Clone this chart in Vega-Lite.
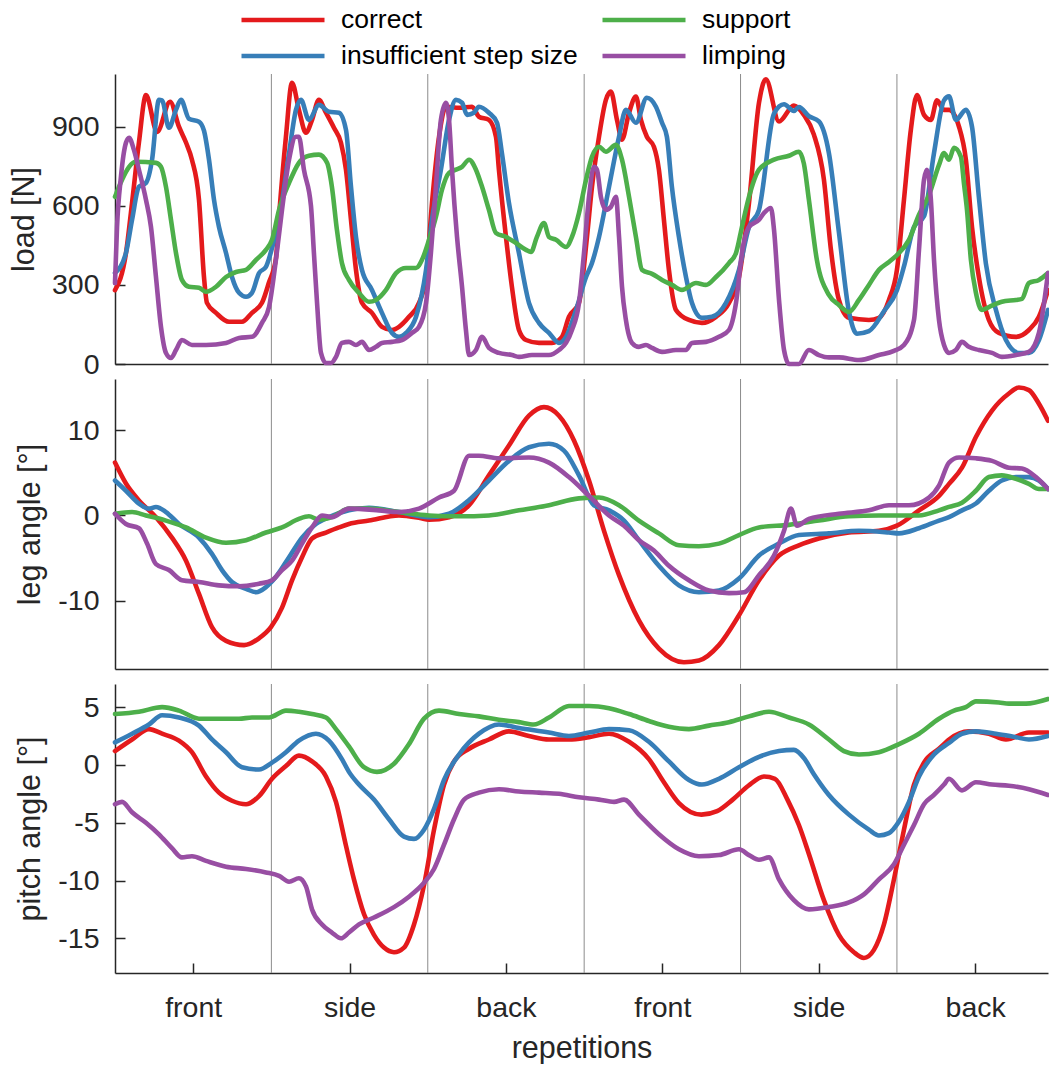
{
"$schema":"https://vega.github.io/schema/vega-lite/v6.json",
"background":"white",
"bounds":"flush",
"padding":{"left":9,"top":5,"right":0,"bottom":0},
"config":{"font":"Liberation Sans","view":{"stroke":null},"concat":{"spacing":15},
"axis":{"grid":false,"domainColor":"#262626","domainWidth":1.5,"tickColor":"#262626","tickWidth":1.5,"labelColor":"#262626","titleColor":"#262626","labelFont":"Liberation Sans","titleFont":"Liberation Sans","labelFontSize":28.5,"titleFontSize":30.5,"titleFontWeight":"normal"},
"line":{"strokeWidth":4.6,"strokeJoin":"round","strokeCap":"round","interpolate":"monotone"}},
"resolve":{"legend":{"color":"independent"}},
"datasets":{
"load":[
{"s":"c","x":0,"y":280},{"s":"c","x":0.07,"y":420},{"s":"c","x":0.109,"y":611},{"s":"c","x":0.153,"y":840},{"s":"c","x":0.198,"y":1020},{"s":"c","x":0.269,"y":880},{"s":"c","x":0.352,"y":995},{"s":"c","x":0.409,"y":900},{"s":"c","x":0.454,"y":840},{"s":"c","x":0.492,"y":775},{"s":"c","x":0.537,"y":623},{"s":"c","x":0.569,"y":330},{"s":"c","x":0.588,"y":232},{"s":"c","x":0.646,"y":194},{"s":"c","x":0.729,"y":160},{"s":"c","x":0.812,"y":160},{"s":"c","x":0.876,"y":194},{"s":"c","x":0.94,"y":232},{"s":"c","x":0.985,"y":310},{"s":"c","x":1.029,"y":400},{"s":"c","x":1.049,"y":560},{"s":"c","x":1.093,"y":862},{"s":"c","x":1.132,"y":1067},{"s":"c","x":1.176,"y":964},{"s":"c","x":1.221,"y":877},{"s":"c","x":1.26,"y":926},{"s":"c","x":1.304,"y":1002},{"s":"c","x":1.349,"y":953},{"s":"c","x":1.4,"y":896},{"s":"c","x":1.445,"y":839},{"s":"c","x":1.477,"y":737},{"s":"c","x":1.509,"y":547},{"s":"c","x":1.541,"y":357},{"s":"c","x":1.579,"y":232},{"s":"c","x":1.643,"y":194},{"s":"c","x":1.707,"y":141},{"s":"c","x":1.771,"y":129},{"s":"c","x":1.816,"y":141},{"s":"c","x":1.88,"y":179},{"s":"c","x":1.944,"y":232},{"s":"c","x":1.989,"y":330},{"s":"c","x":2.027,"y":611},{"s":"c","x":2.072,"y":862},{"s":"c","x":2.116,"y":976},{"s":"c","x":2.2,"y":972},{"s":"c","x":2.283,"y":976},{"s":"c","x":2.327,"y":938},{"s":"c","x":2.391,"y":926},{"s":"c","x":2.436,"y":862},{"s":"c","x":2.455,"y":737},{"s":"c","x":2.5,"y":482},{"s":"c","x":2.538,"y":293},{"s":"c","x":2.583,"y":129},{"s":"c","x":2.628,"y":91},{"s":"c","x":2.711,"y":80},{"s":"c","x":2.794,"y":80},{"s":"c","x":2.858,"y":103},{"s":"c","x":2.903,"y":179},{"s":"c","x":2.967,"y":232},{"s":"c","x":3.018,"y":482},{"s":"c","x":3.05,"y":672},{"s":"c","x":3.095,"y":862},{"s":"c","x":3.139,"y":1002},{"s":"c","x":3.171,"y":1033},{"s":"c","x":3.21,"y":926},{"s":"c","x":3.242,"y":851},{"s":"c","x":3.287,"y":953},{"s":"c","x":3.331,"y":1014},{"s":"c","x":3.363,"y":926},{"s":"c","x":3.401,"y":862},{"s":"c","x":3.446,"y":824},{"s":"c","x":3.478,"y":737},{"s":"c","x":3.51,"y":547},{"s":"c","x":3.542,"y":357},{"s":"c","x":3.587,"y":205},{"s":"c","x":3.67,"y":167},{"s":"c","x":3.753,"y":156},{"s":"c","x":3.843,"y":179},{"s":"c","x":3.926,"y":232},{"s":"c","x":3.99,"y":330},{"s":"c","x":4.054,"y":611},{"s":"c","x":4.118,"y":991},{"s":"c","x":4.162,"y":1080},{"s":"c","x":4.246,"y":920},{"s":"c","x":4.341,"y":980},{"s":"c","x":4.405,"y":945},{"s":"c","x":4.469,"y":870},{"s":"c","x":4.533,"y":700},{"s":"c","x":4.578,"y":433},{"s":"c","x":4.629,"y":243},{"s":"c","x":4.693,"y":175},{"s":"c","x":4.821,"y":167},{"s":"c","x":4.885,"y":175},{"s":"c","x":4.949,"y":243},{"s":"c","x":5,"y":357},{"s":"c","x":5.045,"y":623},{"s":"c","x":5.089,"y":888},{"s":"c","x":5.128,"y":1020},{"s":"c","x":5.173,"y":945},{"s":"c","x":5.217,"y":926},{"s":"c","x":5.256,"y":1000},{"s":"c","x":5.301,"y":964},{"s":"c","x":5.333,"y":964},{"s":"c","x":5.397,"y":900},{"s":"c","x":5.441,"y":775},{"s":"c","x":5.48,"y":520},{"s":"c","x":5.524,"y":330},{"s":"c","x":5.588,"y":167},{"s":"c","x":5.652,"y":118},{"s":"c","x":5.761,"y":103},{"s":"c","x":5.844,"y":129},{"s":"c","x":5.908,"y":179},{"s":"c","x":5.966,"y":280},
{"s":"i","x":0,"y":345},{"s":"i","x":0.07,"y":421},{"s":"i","x":0.109,"y":547},{"s":"i","x":0.153,"y":672},{"s":"i","x":0.198,"y":687},{"s":"i","x":0.237,"y":775},{"s":"i","x":0.281,"y":1002},{"s":"i","x":0.301,"y":1000},{"s":"i","x":0.345,"y":896},{"s":"i","x":0.39,"y":964},{"s":"i","x":0.422,"y":1002},{"s":"i","x":0.473,"y":930},{"s":"i","x":0.537,"y":919},{"s":"i","x":0.569,"y":885},{"s":"i","x":0.601,"y":775},{"s":"i","x":0.633,"y":623},{"s":"i","x":0.665,"y":520},{"s":"i","x":0.71,"y":421},{"s":"i","x":0.748,"y":330},{"s":"i","x":0.793,"y":270},{"s":"i","x":0.838,"y":255},{"s":"i","x":0.876,"y":270},{"s":"i","x":0.921,"y":345},{"s":"i","x":0.965,"y":368},{"s":"i","x":0.985,"y":400},{"s":"i","x":1.004,"y":440},{"s":"i","x":1.049,"y":547},{"s":"i","x":1.113,"y":800},{"s":"i","x":1.157,"y":964},{"s":"i","x":1.189,"y":1002},{"s":"i","x":1.24,"y":926},{"s":"i","x":1.304,"y":983},{"s":"i","x":1.368,"y":957},{"s":"i","x":1.432,"y":953},{"s":"i","x":1.477,"y":888},{"s":"i","x":1.509,"y":672},{"s":"i","x":1.541,"y":482},{"s":"i","x":1.579,"y":357},{"s":"i","x":1.643,"y":281},{"s":"i","x":1.707,"y":194},{"s":"i","x":1.771,"y":118},{"s":"i","x":1.816,"y":103},{"s":"i","x":1.861,"y":118},{"s":"i","x":1.925,"y":179},{"s":"i","x":1.989,"y":357},{"s":"i","x":2.027,"y":547},{"s":"i","x":2.084,"y":737},{"s":"i","x":2.136,"y":926},{"s":"i","x":2.18,"y":1002},{"s":"i","x":2.219,"y":991},{"s":"i","x":2.251,"y":945},{"s":"i","x":2.295,"y":953},{"s":"i","x":2.327,"y":976},{"s":"i","x":2.391,"y":953},{"s":"i","x":2.443,"y":915},{"s":"i","x":2.474,"y":800},{"s":"i","x":2.519,"y":611},{"s":"i","x":2.583,"y":421},{"s":"i","x":2.647,"y":232},{"s":"i","x":2.711,"y":156},{"s":"i","x":2.775,"y":118},{"s":"i","x":2.839,"y":80},{"s":"i","x":2.884,"y":103},{"s":"i","x":2.948,"y":205},{"s":"i","x":3.012,"y":330},{"s":"i","x":3.05,"y":383},{"s":"i","x":3.095,"y":482},{"s":"i","x":3.159,"y":672},{"s":"i","x":3.223,"y":862},{"s":"i","x":3.267,"y":964},{"s":"i","x":3.331,"y":915},{"s":"i","x":3.401,"y":1010},{"s":"i","x":3.459,"y":976},{"s":"i","x":3.498,"y":915},{"s":"i","x":3.529,"y":862},{"s":"i","x":3.561,"y":672},{"s":"i","x":3.606,"y":482},{"s":"i","x":3.651,"y":330},{"s":"i","x":3.689,"y":232},{"s":"i","x":3.753,"y":175},{"s":"i","x":3.817,"y":179},{"s":"i","x":3.907,"y":232},{"s":"i","x":3.99,"y":357},{"s":"i","x":4.054,"y":520},{"s":"i","x":4.118,"y":585},{"s":"i","x":4.214,"y":950},{"s":"i","x":4.278,"y":985},{"s":"i","x":4.341,"y":960},{"s":"i","x":4.373,"y":975},{"s":"i","x":4.437,"y":940},{"s":"i","x":4.501,"y":920},{"s":"i","x":4.565,"y":800},{"s":"i","x":4.629,"y":500},{"s":"i","x":4.693,"y":200},{"s":"i","x":4.744,"y":115},{"s":"i","x":4.821,"y":125},{"s":"i","x":4.917,"y":200},{"s":"i","x":5,"y":280},{"s":"i","x":5.045,"y":370},{"s":"i","x":5.109,"y":520},{"s":"i","x":5.173,"y":560},{"s":"i","x":5.237,"y":800},{"s":"i","x":5.301,"y":1000},{"s":"i","x":5.333,"y":1015},{"s":"i","x":5.377,"y":926},{"s":"i","x":5.441,"y":964},{"s":"i","x":5.48,"y":900},{"s":"i","x":5.524,"y":633},{"s":"i","x":5.569,"y":380},{"s":"i","x":5.633,"y":205},{"s":"i","x":5.697,"y":91},{"s":"i","x":5.78,"y":42},{"s":"i","x":5.844,"y":42},{"s":"i","x":5.908,"y":91},{"s":"i","x":5.966,"y":205},
{"s":"s","x":0,"y":634},{"s":"s","x":0.045,"y":699},{"s":"s","x":0.09,"y":748},{"s":"s","x":0.134,"y":767},{"s":"s","x":0.262,"y":763},{"s":"s","x":0.294,"y":748},{"s":"s","x":0.326,"y":672},{"s":"s","x":0.358,"y":547},{"s":"s","x":0.39,"y":421},{"s":"s","x":0.428,"y":319},{"s":"s","x":0.473,"y":293},{"s":"s","x":0.537,"y":289},{"s":"s","x":0.582,"y":274},{"s":"s","x":0.646,"y":293},{"s":"s","x":0.71,"y":330},{"s":"s","x":0.774,"y":349},{"s":"s","x":0.838,"y":357},{"s":"s","x":0.902,"y":395},{"s":"s","x":0.965,"y":433},{"s":"s","x":1.004,"y":471},{"s":"s","x":1.049,"y":585},{"s":"s","x":1.113,"y":687},{"s":"s","x":1.176,"y":763},{"s":"s","x":1.24,"y":790},{"s":"s","x":1.304,"y":794},{"s":"s","x":1.356,"y":763},{"s":"s","x":1.387,"y":672},{"s":"s","x":1.419,"y":509},{"s":"s","x":1.451,"y":383},{"s":"s","x":1.496,"y":319},{"s":"s","x":1.56,"y":270},{"s":"s","x":1.624,"y":236},{"s":"s","x":1.669,"y":243},{"s":"s","x":1.733,"y":281},{"s":"s","x":1.797,"y":345},{"s":"s","x":1.861,"y":364},{"s":"s","x":1.925,"y":364},{"s":"s","x":1.963,"y":395},{"s":"s","x":2.008,"y":471},{"s":"s","x":2.052,"y":558},{"s":"s","x":2.091,"y":661},{"s":"s","x":2.136,"y":725},{"s":"s","x":2.18,"y":737},{"s":"s","x":2.219,"y":748},{"s":"s","x":2.264,"y":775},{"s":"s","x":2.308,"y":737},{"s":"s","x":2.347,"y":672},{"s":"s","x":2.391,"y":585},{"s":"s","x":2.436,"y":497},{"s":"s","x":2.5,"y":482},{"s":"s","x":2.564,"y":459},{"s":"s","x":2.628,"y":433},{"s":"s","x":2.66,"y":425},{"s":"s","x":2.698,"y":482},{"s":"s","x":2.743,"y":535},{"s":"s","x":2.775,"y":482},{"s":"s","x":2.82,"y":471},{"s":"s","x":2.884,"y":444},{"s":"s","x":2.922,"y":482},{"s":"s","x":2.967,"y":573},{"s":"s","x":3.012,"y":699},{"s":"s","x":3.05,"y":786},{"s":"s","x":3.095,"y":824},{"s":"s","x":3.139,"y":805},{"s":"s","x":3.203,"y":831},{"s":"s","x":3.242,"y":775},{"s":"s","x":3.287,"y":634},{"s":"s","x":3.331,"y":482},{"s":"s","x":3.37,"y":357},{"s":"s","x":3.434,"y":342},{"s":"s","x":3.498,"y":319},{"s":"s","x":3.561,"y":300},{"s":"s","x":3.625,"y":281},{"s":"s","x":3.715,"y":307},{"s":"s","x":3.779,"y":300},{"s":"s","x":3.843,"y":330},{"s":"s","x":3.926,"y":383},{"s":"s","x":3.971,"y":421},{"s":"s","x":4.009,"y":520},{"s":"s","x":4.054,"y":634},{"s":"s","x":4.118,"y":737},{"s":"s","x":4.214,"y":775},{"s":"s","x":4.31,"y":790},{"s":"s","x":4.373,"y":805},{"s":"s","x":4.405,"y":760},{"s":"s","x":4.437,"y":623},{"s":"s","x":4.488,"y":395},{"s":"s","x":4.565,"y":262},{"s":"s","x":4.629,"y":224},{"s":"s","x":4.693,"y":197},{"s":"s","x":4.757,"y":243},{"s":"s","x":4.821,"y":300},{"s":"s","x":4.885,"y":357},{"s":"s","x":4.949,"y":387},{"s":"s","x":5,"y":413},{"s":"s","x":5.077,"y":471},{"s":"s","x":5.141,"y":566},{"s":"s","x":5.205,"y":641},{"s":"s","x":5.269,"y":755},{"s":"s","x":5.301,"y":800},{"s":"s","x":5.333,"y":775},{"s":"s","x":5.365,"y":820},{"s":"s","x":5.409,"y":786},{"s":"s","x":5.429,"y":683},{"s":"s","x":5.448,"y":585},{"s":"s","x":5.473,"y":395},{"s":"s","x":5.505,"y":270},{"s":"s","x":5.543,"y":205},{"s":"s","x":5.588,"y":216},{"s":"s","x":5.671,"y":236},{"s":"s","x":5.761,"y":243},{"s":"s","x":5.799,"y":247},{"s":"s","x":5.844,"y":307},{"s":"s","x":5.908,"y":319},{"s":"s","x":5.966,"y":345},
{"s":"l","x":0,"y":307},{"s":"l","x":0.013,"y":520},{"s":"l","x":0.038,"y":710},{"s":"l","x":0.07,"y":839},{"s":"l","x":0.09,"y":858},{"s":"l","x":0.121,"y":812},{"s":"l","x":0.153,"y":737},{"s":"l","x":0.198,"y":623},{"s":"l","x":0.23,"y":520},{"s":"l","x":0.262,"y":330},{"s":"l","x":0.294,"y":141},{"s":"l","x":0.326,"y":42},{"s":"l","x":0.358,"y":23},{"s":"l","x":0.39,"y":53},{"s":"l","x":0.428,"y":91},{"s":"l","x":0.492,"y":72},{"s":"l","x":0.582,"y":72},{"s":"l","x":0.71,"y":80},{"s":"l","x":0.793,"y":99},{"s":"l","x":0.876,"y":103},{"s":"l","x":0.94,"y":156},{"s":"l","x":0.985,"y":216},{"s":"l","x":1.029,"y":395},{"s":"l","x":1.068,"y":585},{"s":"l","x":1.113,"y":775},{"s":"l","x":1.157,"y":862},{"s":"l","x":1.176,"y":862},{"s":"l","x":1.208,"y":737},{"s":"l","x":1.253,"y":600},{"s":"l","x":1.272,"y":421},{"s":"l","x":1.292,"y":232},{"s":"l","x":1.317,"y":42},{"s":"l","x":1.349,"y":4},{"s":"l","x":1.381,"y":4},{"s":"l","x":1.413,"y":27},{"s":"l","x":1.451,"y":80},{"s":"l","x":1.496,"y":84},{"s":"l","x":1.541,"y":72},{"s":"l","x":1.579,"y":84},{"s":"l","x":1.624,"y":53},{"s":"l","x":1.669,"y":65},{"s":"l","x":1.707,"y":80},{"s":"l","x":1.771,"y":84},{"s":"l","x":1.835,"y":91},{"s":"l","x":1.899,"y":118},{"s":"l","x":1.944,"y":141},{"s":"l","x":1.989,"y":232},{"s":"l","x":2.02,"y":421},{"s":"l","x":2.052,"y":672},{"s":"l","x":2.084,"y":926},{"s":"l","x":2.116,"y":991},{"s":"l","x":2.136,"y":926},{"s":"l","x":2.155,"y":737},{"s":"l","x":2.187,"y":482},{"s":"l","x":2.219,"y":293},{"s":"l","x":2.244,"y":129},{"s":"l","x":2.264,"y":34},{"s":"l","x":2.308,"y":53},{"s":"l","x":2.347,"y":103},{"s":"l","x":2.391,"y":61},{"s":"l","x":2.455,"y":42},{"s":"l","x":2.538,"y":34},{"s":"l","x":2.583,"y":27},{"s":"l","x":2.666,"y":34},{"s":"l","x":2.775,"y":34},{"s":"l","x":2.839,"y":53},{"s":"l","x":2.884,"y":80},{"s":"l","x":2.922,"y":129},{"s":"l","x":2.967,"y":232},{"s":"l","x":2.999,"y":421},{"s":"l","x":3.031,"y":634},{"s":"l","x":3.063,"y":748},{"s":"l","x":3.082,"y":737},{"s":"l","x":3.107,"y":634},{"s":"l","x":3.139,"y":585},{"s":"l","x":3.171,"y":596},{"s":"l","x":3.203,"y":634},{"s":"l","x":3.223,"y":482},{"s":"l","x":3.242,"y":293},{"s":"l","x":3.267,"y":167},{"s":"l","x":3.306,"y":80},{"s":"l","x":3.35,"y":65},{"s":"l","x":3.395,"y":72},{"s":"l","x":3.434,"y":61},{"s":"l","x":3.498,"y":46},{"s":"l","x":3.587,"y":53},{"s":"l","x":3.651,"y":53},{"s":"l","x":3.689,"y":80},{"s":"l","x":3.779,"y":84},{"s":"l","x":3.862,"y":103},{"s":"l","x":3.926,"y":129},{"s":"l","x":3.971,"y":232},{"s":"l","x":4.009,"y":421},{"s":"l","x":4.054,"y":520},{"s":"l","x":4.118,"y":547},{"s":"l","x":4.15,"y":573},{"s":"l","x":4.194,"y":592},{"s":"l","x":4.214,"y":509},{"s":"l","x":4.246,"y":243},{"s":"l","x":4.278,"y":53},{"s":"l","x":4.31,"y":0},{"s":"l","x":4.373,"y":0},{"s":"l","x":4.437,"y":53},{"s":"l","x":4.501,"y":34},{"s":"l","x":4.565,"y":25},{"s":"l","x":4.629,"y":25},{"s":"l","x":4.757,"y":15},{"s":"l","x":4.885,"y":34},{"s":"l","x":4.981,"y":50},{"s":"l","x":5.045,"y":72},{"s":"l","x":5.109,"y":167},{"s":"l","x":5.141,"y":433},{"s":"l","x":5.173,"y":699},{"s":"l","x":5.192,"y":737},{"s":"l","x":5.217,"y":623},{"s":"l","x":5.237,"y":395},{"s":"l","x":5.269,"y":167},{"s":"l","x":5.301,"y":72},{"s":"l","x":5.333,"y":42},{"s":"l","x":5.377,"y":53},{"s":"l","x":5.416,"y":84},{"s":"l","x":5.46,"y":65},{"s":"l","x":5.524,"y":53},{"s":"l","x":5.608,"y":42},{"s":"l","x":5.671,"y":27},{"s":"l","x":5.761,"y":34},{"s":"l","x":5.844,"y":46},{"s":"l","x":5.908,"y":118},{"s":"l","x":5.966,"y":345}
],
"leg":[
{"s":"c","x":0,"y":6.2},{"s":"c","x":0.07,"y":3.75},{"s":"c","x":0.153,"y":1.76},{"s":"c","x":0.262,"y":-0.2},{"s":"c","x":0.364,"y":-2.6},{"s":"c","x":0.454,"y":-5.3},{"s":"c","x":0.537,"y":-9.2},{"s":"c","x":0.62,"y":-13.1},{"s":"c","x":0.71,"y":-14.7},{"s":"c","x":0.825,"y":-15.2},{"s":"c","x":0.921,"y":-14.4},{"s":"c","x":0.997,"y":-13.1},{"s":"c","x":1.068,"y":-10.8},{"s":"c","x":1.132,"y":-7.6},{"s":"c","x":1.196,"y":-4.9},{"s":"c","x":1.26,"y":-2.7},{"s":"c","x":1.349,"y":-2},{"s":"c","x":1.432,"y":-1.4},{"s":"c","x":1.496,"y":-1},{"s":"c","x":1.624,"y":-0.6},{"s":"c","x":1.816,"y":0},{"s":"c","x":1.95,"y":-0.3},{"s":"c","x":2.008,"y":-0.5},{"s":"c","x":2.136,"y":-0.2},{"s":"c","x":2.264,"y":1.2},{"s":"c","x":2.391,"y":4.7},{"s":"c","x":2.519,"y":8.2},{"s":"c","x":2.647,"y":11.7},{"s":"c","x":2.743,"y":12.7},{"s":"c","x":2.839,"y":11.7},{"s":"c","x":2.935,"y":8.8},{"s":"c","x":3.031,"y":4.1},{"s":"c","x":3.127,"y":-1.8},{"s":"c","x":3.223,"y":-7},{"s":"c","x":3.35,"y":-12.3},{"s":"c","x":3.478,"y":-15.6},{"s":"c","x":3.638,"y":-17.2},{"s":"c","x":3.734,"y":-17},{"s":"c","x":3.862,"y":-15.2},{"s":"c","x":3.99,"y":-11.7},{"s":"c","x":4.118,"y":-7.6},{"s":"c","x":4.246,"y":-4.7},{"s":"c","x":4.373,"y":-3.5},{"s":"c","x":4.501,"y":-2.7},{"s":"c","x":4.693,"y":-2},{"s":"c","x":4.885,"y":-1.8},{"s":"c","x":5,"y":-1.2},{"s":"c","x":5.141,"y":0.6},{"s":"c","x":5.269,"y":2.3},{"s":"c","x":5.333,"y":3.7},{"s":"c","x":5.416,"y":5.6},{"s":"c","x":5.505,"y":9.2},{"s":"c","x":5.608,"y":12.3},{"s":"c","x":5.716,"y":14.3},{"s":"c","x":5.78,"y":15},{"s":"c","x":5.844,"y":14.7},{"s":"c","x":5.908,"y":13.1},{"s":"c","x":5.966,"y":11.1},
{"s":"i","x":0,"y":4.1},{"s":"i","x":0.07,"y":2.9},{"s":"i","x":0.153,"y":1.4},{"s":"i","x":0.217,"y":0.8},{"s":"i","x":0.262,"y":1},{"s":"i","x":0.326,"y":0.4},{"s":"i","x":0.409,"y":-1},{"s":"i","x":0.537,"y":-2.6},{"s":"i","x":0.62,"y":-4.5},{"s":"i","x":0.684,"y":-6.4},{"s":"i","x":0.748,"y":-7.8},{"s":"i","x":0.838,"y":-8.6},{"s":"i","x":0.902,"y":-9},{"s":"i","x":0.965,"y":-8.4},{"s":"i","x":1.029,"y":-7.2},{"s":"i","x":1.113,"y":-4.9},{"s":"i","x":1.196,"y":-2.6},{"s":"i","x":1.285,"y":-1},{"s":"i","x":1.368,"y":-0.2},{"s":"i","x":1.496,"y":0.6},{"s":"i","x":1.624,"y":0.9},{"s":"i","x":1.816,"y":0.4},{"s":"i","x":2.008,"y":-0.2},{"s":"i","x":2.136,"y":0.2},{"s":"i","x":2.264,"y":1.8},{"s":"i","x":2.391,"y":4.1},{"s":"i","x":2.519,"y":6.4},{"s":"i","x":2.647,"y":8},{"s":"i","x":2.775,"y":8.4},{"s":"i","x":2.871,"y":7.6},{"s":"i","x":2.967,"y":4.7},{"s":"i","x":3.063,"y":1.2},{"s":"i","x":3.159,"y":0.6},{"s":"i","x":3.255,"y":-0.6},{"s":"i","x":3.35,"y":-2.9},{"s":"i","x":3.478,"y":-5.9},{"s":"i","x":3.606,"y":-8.2},{"s":"i","x":3.734,"y":-9},{"s":"i","x":3.862,"y":-8.8},{"s":"i","x":3.99,"y":-7.4},{"s":"i","x":4.118,"y":-4.7},{"s":"i","x":4.246,"y":-3.3},{"s":"i","x":4.373,"y":-2.3},{"s":"i","x":4.565,"y":-2.1},{"s":"i","x":4.757,"y":-1.8},{"s":"i","x":4.949,"y":-2},{"s":"i","x":5.013,"y":-2.1},{"s":"i","x":5.141,"y":-1.5},{"s":"i","x":5.269,"y":-0.6},{"s":"i","x":5.333,"y":-0.2},{"s":"i","x":5.416,"y":0.6},{"s":"i","x":5.505,"y":1.4},{"s":"i","x":5.588,"y":2.9},{"s":"i","x":5.671,"y":4.1},{"s":"i","x":5.761,"y":4.5},{"s":"i","x":5.844,"y":4.5},{"s":"i","x":5.908,"y":4.1},{"s":"i","x":5.966,"y":3.1},
{"s":"s","x":0,"y":0.2},{"s":"s","x":0.109,"y":0.4},{"s":"s","x":0.198,"y":0},{"s":"s","x":0.326,"y":-0.6},{"s":"s","x":0.454,"y":-1.4},{"s":"s","x":0.582,"y":-2.6},{"s":"s","x":0.71,"y":-3.2},{"s":"s","x":0.838,"y":-2.9},{"s":"s","x":0.965,"y":-2},{"s":"s","x":1.068,"y":-1.4},{"s":"s","x":1.176,"y":-0.4},{"s":"s","x":1.24,"y":-0.1},{"s":"s","x":1.304,"y":-0.5},{"s":"s","x":1.387,"y":-0.2},{"s":"s","x":1.496,"y":0.8},{"s":"s","x":1.624,"y":0.8},{"s":"s","x":1.816,"y":0.4},{"s":"s","x":2.008,"y":0},{"s":"s","x":2.2,"y":-0.1},{"s":"s","x":2.391,"y":0},{"s":"s","x":2.583,"y":0.6},{"s":"s","x":2.775,"y":1.2},{"s":"s","x":2.967,"y":2},{"s":"s","x":3.095,"y":2.1},{"s":"s","x":3.223,"y":1.2},{"s":"s","x":3.35,"y":-0.6},{"s":"s","x":3.478,"y":-2.1},{"s":"s","x":3.606,"y":-3.5},{"s":"s","x":3.734,"y":-3.6},{"s":"s","x":3.862,"y":-3.3},{"s":"s","x":3.99,"y":-2.3},{"s":"s","x":4.118,"y":-1.4},{"s":"s","x":4.31,"y":-1.1},{"s":"s","x":4.501,"y":-0.6},{"s":"s","x":4.693,"y":-0.1},{"s":"s","x":4.885,"y":0},{"s":"s","x":5.141,"y":0},{"s":"s","x":5.269,"y":0.6},{"s":"s","x":5.333,"y":1},{"s":"s","x":5.416,"y":1.5},{"s":"s","x":5.505,"y":2.9},{"s":"s","x":5.588,"y":4.5},{"s":"s","x":5.671,"y":4.7},{"s":"s","x":5.761,"y":4.3},{"s":"s","x":5.844,"y":3.7},{"s":"s","x":5.908,"y":3.1},{"s":"s","x":5.966,"y":3.1},
{"s":"l","x":0,"y":0.2},{"s":"l","x":0.07,"y":-1},{"s":"l","x":0.153,"y":-1.5},{"s":"l","x":0.205,"y":-3.3},{"s":"l","x":0.262,"y":-5.7},{"s":"l","x":0.345,"y":-6.4},{"s":"l","x":0.428,"y":-7.6},{"s":"l","x":0.537,"y":-7.8},{"s":"l","x":0.665,"y":-8.2},{"s":"l","x":0.793,"y":-8.3},{"s":"l","x":0.921,"y":-8},{"s":"l","x":1.004,"y":-7.6},{"s":"l","x":1.068,"y":-6.4},{"s":"l","x":1.132,"y":-5.3},{"s":"l","x":1.196,"y":-3.3},{"s":"l","x":1.26,"y":-1.4},{"s":"l","x":1.324,"y":0},{"s":"l","x":1.387,"y":-0.2},{"s":"l","x":1.496,"y":0.8},{"s":"l","x":1.688,"y":0.6},{"s":"l","x":1.816,"y":0.4},{"s":"l","x":1.944,"y":0.8},{"s":"l","x":2.072,"y":2.1},{"s":"l","x":2.168,"y":2.9},{"s":"l","x":2.264,"y":7},{"s":"l","x":2.327,"y":7},{"s":"l","x":2.455,"y":6.7},{"s":"l","x":2.647,"y":6.8},{"s":"l","x":2.775,"y":6.2},{"s":"l","x":2.903,"y":4.5},{"s":"l","x":3.031,"y":2.3},{"s":"l","x":3.159,"y":0},{"s":"l","x":3.255,"y":-1.2},{"s":"l","x":3.35,"y":-2.9},{"s":"l","x":3.446,"y":-4.1},{"s":"l","x":3.542,"y":-5.9},{"s":"l","x":3.67,"y":-7.6},{"s":"l","x":3.798,"y":-8.8},{"s":"l","x":3.926,"y":-9.1},{"s":"l","x":4.022,"y":-9},{"s":"l","x":4.118,"y":-7},{"s":"l","x":4.214,"y":-4.7},{"s":"l","x":4.278,"y":-1.8},{"s":"l","x":4.322,"y":0.8},{"s":"l","x":4.361,"y":-1.2},{"s":"l","x":4.437,"y":-0.4},{"s":"l","x":4.629,"y":0.2},{"s":"l","x":4.821,"y":0.6},{"s":"l","x":4.949,"y":1.2},{"s":"l","x":5.077,"y":1.2},{"s":"l","x":5.205,"y":2.1},{"s":"l","x":5.269,"y":3.5},{"s":"l","x":5.333,"y":6.2},{"s":"l","x":5.397,"y":6.8},{"s":"l","x":5.505,"y":6.7},{"s":"l","x":5.608,"y":6.4},{"s":"l","x":5.716,"y":5.6},{"s":"l","x":5.799,"y":5.5},{"s":"l","x":5.889,"y":4.5},{"s":"l","x":5.966,"y":3.1}
],
"pitch":[
{"s":"c","x":0,"y":1.2},{"s":"c","x":0.109,"y":2.2},{"s":"c","x":0.217,"y":3.1},{"s":"c","x":0.301,"y":2.7},{"s":"c","x":0.409,"y":2.1},{"s":"c","x":0.492,"y":1.1},{"s":"c","x":0.582,"y":-1},{"s":"c","x":0.665,"y":-2.4},{"s":"c","x":0.748,"y":-3.1},{"s":"c","x":0.838,"y":-3.4},{"s":"c","x":0.921,"y":-2.7},{"s":"c","x":1.004,"y":-1.2},{"s":"c","x":1.093,"y":-0.1},{"s":"c","x":1.176,"y":0.8},{"s":"c","x":1.26,"y":0.3},{"s":"c","x":1.349,"y":-1},{"s":"c","x":1.413,"y":-3.2},{"s":"c","x":1.477,"y":-7},{"s":"c","x":1.528,"y":-9.9},{"s":"c","x":1.592,"y":-12.9},{"s":"c","x":1.656,"y":-14.7},{"s":"c","x":1.72,"y":-15.8},{"s":"c","x":1.784,"y":-16.2},{"s":"c","x":1.848,"y":-15.8},{"s":"c","x":1.912,"y":-13.8},{"s":"c","x":1.976,"y":-10.4},{"s":"c","x":2.04,"y":-5.6},{"s":"c","x":2.104,"y":-1.7},{"s":"c","x":2.168,"y":0.3},{"s":"c","x":2.264,"y":1.4},{"s":"c","x":2.391,"y":2.2},{"s":"c","x":2.519,"y":2.9},{"s":"c","x":2.647,"y":2.5},{"s":"c","x":2.775,"y":2.2},{"s":"c","x":2.903,"y":2.2},{"s":"c","x":3.031,"y":2.4},{"s":"c","x":3.159,"y":2.7},{"s":"c","x":3.287,"y":2},{"s":"c","x":3.414,"y":0.5},{"s":"c","x":3.51,"y":-1.5},{"s":"c","x":3.606,"y":-3.3},{"s":"c","x":3.75,"y":-4.3},{"s":"c","x":3.85,"y":-4},{"s":"c","x":3.95,"y":-3},{"s":"c","x":4.05,"y":-1.8},{"s":"c","x":4.15,"y":-1},{"s":"c","x":4.22,"y":-1.2},{"s":"c","x":4.3,"y":-3},{"s":"c","x":4.373,"y":-5.2},{"s":"c","x":4.437,"y":-7.7},{"s":"c","x":4.533,"y":-11.7},{"s":"c","x":4.629,"y":-14.7},{"s":"c","x":4.725,"y":-16.2},{"s":"c","x":4.789,"y":-16.7},{"s":"c","x":4.853,"y":-16},{"s":"c","x":4.917,"y":-13.8},{"s":"c","x":4.981,"y":-9.9},{"s":"c","x":5.045,"y":-5.6},{"s":"c","x":5.109,"y":-1.7},{"s":"c","x":5.173,"y":0.2},{"s":"c","x":5.269,"y":1.4},{"s":"c","x":5.333,"y":2.2},{"s":"c","x":5.46,"y":2.9},{"s":"c","x":5.588,"y":2.7},{"s":"c","x":5.697,"y":2.2},{"s":"c","x":5.844,"y":2.8},{"s":"c","x":5.966,"y":2.8},
{"s":"i","x":0,"y":1.95},{"s":"i","x":0.109,"y":2.7},{"s":"i","x":0.217,"y":3.5},{"s":"i","x":0.301,"y":4.3},{"s":"i","x":0.409,"y":4.1},{"s":"i","x":0.537,"y":3.4},{"s":"i","x":0.62,"y":2.2},{"s":"i","x":0.71,"y":1.1},{"s":"i","x":0.812,"y":-0.2},{"s":"i","x":0.921,"y":-0.4},{"s":"i","x":1.004,"y":0.2},{"s":"i","x":1.093,"y":1.1},{"s":"i","x":1.176,"y":2.1},{"s":"i","x":1.285,"y":2.7},{"s":"i","x":1.368,"y":2.1},{"s":"i","x":1.451,"y":0.5},{"s":"i","x":1.496,"y":-0.6},{"s":"i","x":1.56,"y":-1.7},{"s":"i","x":1.656,"y":-3},{"s":"i","x":1.752,"y":-4.7},{"s":"i","x":1.848,"y":-6.2},{"s":"i","x":1.912,"y":-6.4},{"s":"i","x":1.976,"y":-5.6},{"s":"i","x":2.04,"y":-3.8},{"s":"i","x":2.104,"y":-1.3},{"s":"i","x":2.2,"y":0.9},{"s":"i","x":2.327,"y":2.7},{"s":"i","x":2.455,"y":3.5},{"s":"i","x":2.583,"y":3.2},{"s":"i","x":2.775,"y":2.8},{"s":"i","x":2.903,"y":2.5},{"s":"i","x":3.031,"y":2.8},{"s":"i","x":3.159,"y":3.1},{"s":"i","x":3.287,"y":3},{"s":"i","x":3.414,"y":2},{"s":"i","x":3.542,"y":0.3},{"s":"i","x":3.67,"y":-1.3},{"s":"i","x":3.753,"y":-1.7},{"s":"i","x":3.862,"y":-1.2},{"s":"i","x":3.99,"y":-0.2},{"s":"i","x":4.118,"y":0.7},{"s":"i","x":4.246,"y":1.2},{"s":"i","x":4.341,"y":1.3},{"s":"i","x":4.405,"y":0.6},{"s":"i","x":4.469,"y":-0.8},{"s":"i","x":4.565,"y":-2.6},{"s":"i","x":4.693,"y":-4.3},{"s":"i","x":4.821,"y":-5.6},{"s":"i","x":4.885,"y":-6.1},{"s":"i","x":4.949,"y":-5.9},{"s":"i","x":5.013,"y":-4.9},{"s":"i","x":5.077,"y":-3.2},{"s":"i","x":5.141,"y":-1},{"s":"i","x":5.237,"y":0.9},{"s":"i","x":5.333,"y":1.9},{"s":"i","x":5.416,"y":2.7},{"s":"i","x":5.505,"y":2.9},{"s":"i","x":5.633,"y":2.7},{"s":"i","x":5.761,"y":2.4},{"s":"i","x":5.844,"y":2.2},{"s":"i","x":5.966,"y":2.5},
{"s":"s","x":0,"y":4.4},{"s":"s","x":0.153,"y":4.6},{"s":"s","x":0.301,"y":5},{"s":"s","x":0.409,"y":4.7},{"s":"s","x":0.537,"y":4},{"s":"s","x":0.665,"y":4},{"s":"s","x":0.793,"y":4},{"s":"s","x":0.876,"y":4.1},{"s":"s","x":0.985,"y":4.1},{"s":"s","x":1.093,"y":4.7},{"s":"s","x":1.176,"y":4.6},{"s":"s","x":1.26,"y":4.4},{"s":"s","x":1.349,"y":4.1},{"s":"s","x":1.413,"y":3.1},{"s":"s","x":1.496,"y":1.6},{"s":"s","x":1.592,"y":-0.2},{"s":"s","x":1.675,"y":-0.6},{"s":"s","x":1.784,"y":0.1},{"s":"s","x":1.88,"y":1.8},{"s":"s","x":1.976,"y":4},{"s":"s","x":2.072,"y":4.7},{"s":"s","x":2.2,"y":4.4},{"s":"s","x":2.327,"y":4.2},{"s":"s","x":2.455,"y":3.9},{"s":"s","x":2.583,"y":3.7},{"s":"s","x":2.679,"y":3.5},{"s":"s","x":2.775,"y":4.1},{"s":"s","x":2.903,"y":5.1},{"s":"s","x":3.031,"y":5.1},{"s":"s","x":3.159,"y":4.9},{"s":"s","x":3.287,"y":4.4},{"s":"s","x":3.414,"y":3.8},{"s":"s","x":3.542,"y":3.3},{"s":"s","x":3.67,"y":3.1},{"s":"s","x":3.798,"y":3.4},{"s":"s","x":3.926,"y":3.7},{"s":"s","x":4.054,"y":4.2},{"s":"s","x":4.182,"y":4.6},{"s":"s","x":4.31,"y":4.1},{"s":"s","x":4.437,"y":3.5},{"s":"s","x":4.565,"y":2.2},{"s":"s","x":4.661,"y":1.2},{"s":"s","x":4.757,"y":0.9},{"s":"s","x":4.885,"y":1.1},{"s":"s","x":5.013,"y":1.8},{"s":"s","x":5.141,"y":2.7},{"s":"s","x":5.269,"y":4},{"s":"s","x":5.365,"y":4.7},{"s":"s","x":5.441,"y":5},{"s":"s","x":5.505,"y":5.5},{"s":"s","x":5.652,"y":5.4},{"s":"s","x":5.716,"y":5.3},{"s":"s","x":5.825,"y":5.3},{"s":"s","x":5.966,"y":5.7},
{"s":"l","x":0,"y":-3.4},{"s":"l","x":0.045,"y":-3.2},{"s":"l","x":0.109,"y":-4.1},{"s":"l","x":0.198,"y":-5},{"s":"l","x":0.281,"y":-6},{"s":"l","x":0.364,"y":-7.2},{"s":"l","x":0.428,"y":-8},{"s":"l","x":0.492,"y":-7.9},{"s":"l","x":0.582,"y":-8.3},{"s":"l","x":0.71,"y":-8.8},{"s":"l","x":0.838,"y":-9},{"s":"l","x":0.965,"y":-9.3},{"s":"l","x":1.049,"y":-9.6},{"s":"l","x":1.113,"y":-10.1},{"s":"l","x":1.176,"y":-9.8},{"s":"l","x":1.221,"y":-10.5},{"s":"l","x":1.26,"y":-12.5},{"s":"l","x":1.324,"y":-13.8},{"s":"l","x":1.387,"y":-14.5},{"s":"l","x":1.445,"y":-15},{"s":"l","x":1.496,"y":-14.5},{"s":"l","x":1.56,"y":-13.8},{"s":"l","x":1.656,"y":-13.2},{"s":"l","x":1.784,"y":-12.3},{"s":"l","x":1.88,"y":-11.4},{"s":"l","x":1.976,"y":-10.2},{"s":"l","x":2.04,"y":-9},{"s":"l","x":2.104,"y":-6.9},{"s":"l","x":2.168,"y":-4.7},{"s":"l","x":2.232,"y":-3},{"s":"l","x":2.327,"y":-2.4},{"s":"l","x":2.455,"y":-2.1},{"s":"l","x":2.583,"y":-2.3},{"s":"l","x":2.711,"y":-2.4},{"s":"l","x":2.839,"y":-2.5},{"s":"l","x":2.967,"y":-2.8},{"s":"l","x":3.095,"y":-3},{"s":"l","x":3.191,"y":-3.2},{"s":"l","x":3.255,"y":-3},{"s":"l","x":3.35,"y":-4.3},{"s":"l","x":3.478,"y":-6},{"s":"l","x":3.606,"y":-7.3},{"s":"l","x":3.734,"y":-7.9},{"s":"l","x":3.862,"y":-7.8},{"s":"l","x":3.99,"y":-7.3},{"s":"l","x":4.054,"y":-7.8},{"s":"l","x":4.118,"y":-8.2},{"s":"l","x":4.182,"y":-8},{"s":"l","x":4.246,"y":-9.9},{"s":"l","x":4.341,"y":-11.7},{"s":"l","x":4.437,"y":-12.5},{"s":"l","x":4.565,"y":-12.3},{"s":"l","x":4.693,"y":-11.9},{"s":"l","x":4.789,"y":-11.2},{"s":"l","x":4.885,"y":-9.9},{"s":"l","x":4.981,"y":-8.6},{"s":"l","x":5.045,"y":-6.9},{"s":"l","x":5.109,"y":-5.2},{"s":"l","x":5.173,"y":-3.4},{"s":"l","x":5.237,"y":-2.6},{"s":"l","x":5.301,"y":-1.7},{"s":"l","x":5.333,"y":-1.2},{"s":"l","x":5.416,"y":-2.2},{"s":"l","x":5.505,"y":-1.5},{"s":"l","x":5.608,"y":-1.7},{"s":"l","x":5.716,"y":-1.8},{"s":"l","x":5.844,"y":-2.1},{"s":"l","x":5.966,"y":-2.6}
]},
"vconcat":[
{"width":933,"height":290,
"encoding":{"x":{"field":"x","type":"quantitative","scale":{"domain":[0,5.966],"nice":false,"zero":false},"axis":{"labels":false,"ticks":false,"title":null}}},
"layer":[
{"data":{"values":[{"x":1},{"x":2},{"x":3},{"x":4},{"x":5}]},"mark":{"type":"rule","color":"#8c8c8c","strokeWidth":1},"encoding":{}},
{"data":{"name":"load"},"mark":"line","encoding":{
"y":{"field":"y","type":"quantitative","scale":{"domain":[0,1100],"nice":false},"axis":{"values":[0,300,600,900],"tickSize":-10,"labelPadding":26,"title":"load [N]","titlePadding":12,"labelExpr":"''+datum.value"}},
"color":{"field":"s","type":"nominal","scale":{"domain":["c","i","s","l"],"range":["#e41a1c","#377eb8","#4daf4a","#984ea3"]},
"legend":{"orient":"none","legendX":124,"legendY":-69,"columns":2,"title":null,"padding":0,"symbolType":"stroke","symbolSize":6889,"symbolStrokeWidth":5,"clipHeight":30,"labelFontSize":26.5,"labelColor":"#000000","labelFont":"Liberation Sans","labelLimit":500,"labelOffset":14,"columnPadding":22,"rowPadding":6,"labelExpr":"datum.value=='c'?'correct':datum.value=='i'?'insufficient step size':datum.value=='s'?'support':'limping'"}}}}
]},
{"width":933,"height":290,
"encoding":{"x":{"field":"x","type":"quantitative","scale":{"domain":[0,5.966],"nice":false,"zero":false},"axis":{"labels":false,"ticks":false,"title":null}}},
"layer":[
{"data":{"values":[{"x":1},{"x":2},{"x":3},{"x":4},{"x":5}]},"mark":{"type":"rule","color":"#8c8c8c","strokeWidth":1},"encoding":{}},
{"data":{"name":"leg"},"mark":"line","encoding":{
"y":{"field":"y","type":"quantitative","scale":{"domain":[-18,16],"nice":false},"axis":{"values":[-10,0,10],"tickSize":-10,"labelPadding":26,"title":"leg angle [°]","titlePadding":12,"labelExpr":"''+datum.value"}},
"color":{"field":"s","type":"nominal","scale":{"domain":["c","i","s","l"],"range":["#e41a1c","#377eb8","#4daf4a","#984ea3"]},"legend":null}}}
]},
{"width":933,"height":289,
"encoding":{"x":{"field":"x","type":"quantitative","scale":{"domain":[0,5.966],"nice":false,"zero":false},"axis":{"values":[0.5,1.5,2.5,3.5,4.5,5.5],"tickSize":-10,"labelPadding":30,"labelExpr":"['front','side','back','front','side','back'][floor(datum.value)]","title":"repetitions","titlePadding":12}}},
"layer":[
{"data":{"values":[{"x":1},{"x":2},{"x":3},{"x":4},{"x":5}]},"mark":{"type":"rule","color":"#8c8c8c","strokeWidth":1},"encoding":{}},
{"data":{"name":"pitch"},"mark":"line","encoding":{
"y":{"field":"y","type":"quantitative","scale":{"domain":[-18,7],"nice":false},"axis":{"values":[-15,-10,-5,0,5],"tickSize":-10,"labelPadding":26,"title":"pitch angle [°]","titlePadding":12,"labelExpr":"''+datum.value"}},
"color":{"field":"s","type":"nominal","scale":{"domain":["c","i","s","l"],"range":["#e41a1c","#377eb8","#4daf4a","#984ea3"]},"legend":null}}}
]}
]
}
